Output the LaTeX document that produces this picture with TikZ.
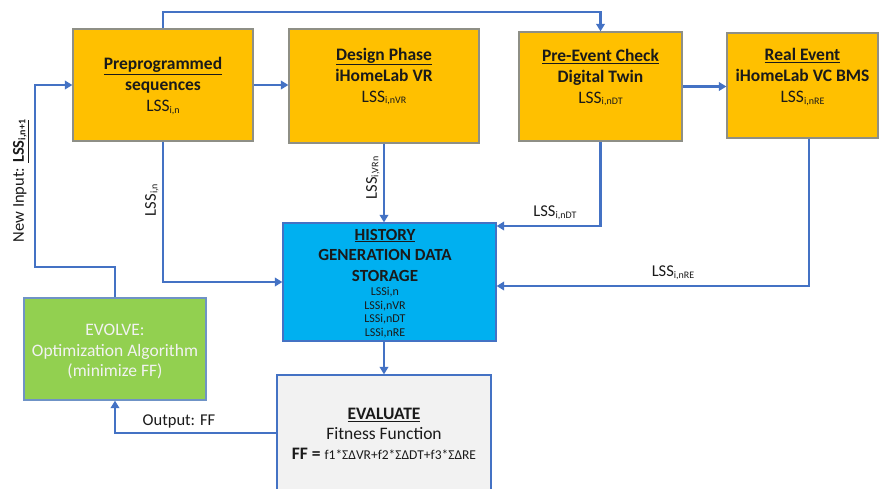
\documentclass[tikz,border=0pt]{standalone}
\usepackage{fontspec}
\setmainfont{Carlito}
\usetikzlibrary{arrows.meta}

\definecolor{amber}{HTML}{FFC000}
\definecolor{stageline}{HTML}{8E8F86}
\definecolor{flow}{HTML}{4472C4}
\definecolor{sky}{HTML}{00B0F0}
\definecolor{leaf}{HTML}{92D050}
\definecolor{leafline}{HTML}{6F93C6}
\definecolor{paper}{HTML}{F2F2F2}
\definecolor{ink}{HTML}{1A1A1A}

% LSS with a small, slightly lowered index
\newcommand\Lss[1]{LSS{\fontsize{10}{10}\selectfont\raisebox{-1.5pt}{#1}}}

\begin{document}
\begin{tikzpicture}[x=1pt,y=-1pt,
  box/.style={rectangle, inner sep=0pt, line width=1.2pt},
  stage/.style={box, draw=stageline, fill=amber},
  txt/.style={align=center, inner sep=0pt, text=ink, font=\fontsize{17.5}{21}\selectfont},
  lbl/.style={inner sep=0pt, text=ink, font=\fontsize{16.5}{18}\selectfont},
  conn/.style={draw=flow, line width=2.6pt, -{Triangle[length=7.5pt,width=8.5pt]}}
]
\useasboundingbox (0,0) rectangle (879,488);

% stage boxes along the top
\node[stage, minimum width=180, minimum height=112] (b1) at (163,85) {};
\node[stage, minimum width=190, minimum height=114] (b2) at (384,86) {};
\node[stage, minimum width=163, minimum height=109] (b3) at (600.5,86.5) {};
\node[stage, minimum width=151, minimum height=105] (b4) at (802.5,85.5) {};

\node[txt] (t1) at (163,86) {\textbf{\underline{Preprogrammed}}\\ \textbf{sequences}\\ \Lss{i,n}};
\node[txt] (t2) at (384,76.5) {\textbf{\underline{Design Phase}}\\ \textbf{iHomeLab VR}\\ \Lss{i,nVR}};
\node[txt] (t3) at (600.5,77.5) {\textbf{\underline{Pre-Event Check}}\\ \textbf{Digital Twin}\\ \Lss{i,nDT}};
\node[txt] (t4) at (802.5,77) {\textbf{\underline{Real Event}}\\ \textbf{iHomeLab VC BMS}\\ \Lss{i,nRE}};

% history store
\node[box, draw=flow, fill=sky, minimum width=213, minimum height=118] (hist) at (389.5,282) {};
\node[txt, font=\fontsize{17}{20.5}\selectfont] (histtitle) at (385,255)
  {\textbf{\underline{HISTORY}}\\ \textbf{GENERATION DATA}\\ \textbf{STORAGE}};
\node[txt, font=\fontsize{12}{13.5}\selectfont] (histlist) at (385,312.5)
  {LSSi,n\\ LSSi,nVR\\ LSSi,nDT\\ LSSi,nRE};

% evaluation
\node[box, draw=flow, fill=paper, minimum width=214, minimum height=125] (eval) at (384,437.5) {};
\node[txt, font=\fontsize{17.5}{20}\selectfont] (evaltext) at (384,434)
  {\textbf{\underline{EVALUATE}}\\ Fitness Function\\
   \textbf{FF =} {\fontsize{13.5}{13.5}\selectfont f1*ΣΔVR+f2*ΣΔDT+f3*ΣΔRE}};

% evolution step
\node[box, draw=leafline, fill=leaf, minimum width=182, minimum height=102] (evo) at (115,349) {};
\node[txt, text=paper, font=\fontsize{17.5}{20.5}\selectfont] (evotext) at (115,352)
  {EVOLVE:\\ Optimization Algorithm\\ (minimize FF)};

% routing points
\coordinate (top) at (0,12);
\coordinate (loop) at (35,267);

% connectors
\draw[conn] (b1.north) -- (b1.north |- top) -| (b3.north);
\draw[conn] (b1.east) -- (b2.west |- b1.east);
\draw[conn] (b3.east) -- (b4.west |- b3.east);
\draw[conn] (b1.south) |- (hist.west);
\draw[conn] (b2.south) -- (b2.south |- hist.north);
\draw[conn] (b3.south) |- ([yshift=56pt]hist.east);
\draw[conn] ([xshift=6.5pt]b4.south) |- ([yshift=-4pt]hist.east);
\draw[conn] (b2.south |- hist.south) -- (b2.south |- eval.north);
\draw[conn] ([yshift=4.5pt]eval.west) -| (evo.south);
\draw[conn] (evo.north) |- (loop) |- (b1.west);

% connector labels
\node[lbl, rotate=90] (l1) at (152,200) {\Lss{i,n}};
\node[lbl, rotate=90] (l2) at (373,178) {\Lss{i,VRn}};
\node[lbl] (l3) at (555,213) {\Lss{i,nDT}};
\node[lbl] (l4) at (673,273) {\Lss{i,nRE}};
\node[lbl] (l5) at (179,421) {Output: FF};
\node[lbl, rotate=90] (l6) at (21,181) {New Input: \textbf{\underline{\Lss{i,n+1}}}};
\end{tikzpicture}
\end{document}
